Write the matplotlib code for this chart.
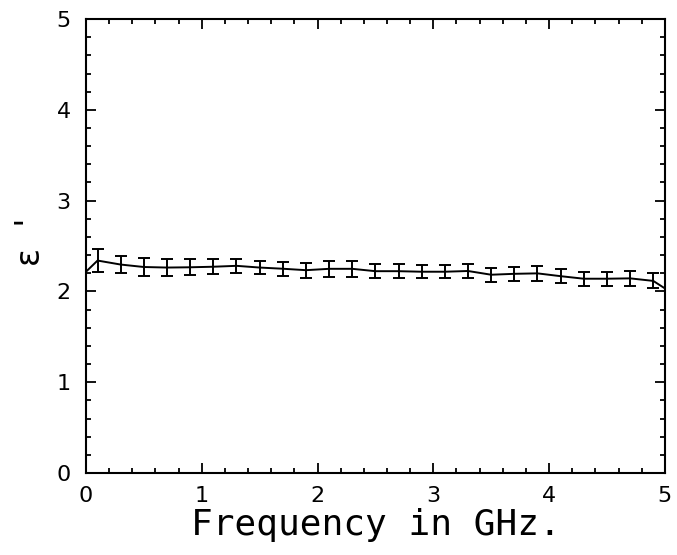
import numpy as np
import matplotlib
matplotlib.use('Agg')
import matplotlib.pyplot as plt
from matplotlib.ticker import MultipleLocator

# measured permittivity (real part) vs frequency
freq = [0.1, 0.3, 0.5, 0.7, 0.9, 1.1, 1.3, 1.5, 1.7, 1.9, 2.1, 2.3, 2.5,
        2.7, 2.9, 3.1, 3.3, 3.5, 3.7, 3.9, 4.1, 4.3, 4.5, 4.7, 4.9]
eps_real = [2.340, 2.296, 2.269, 2.263, 2.266, 2.272, 2.282, 2.263, 2.250,
            2.234, 2.249, 2.249, 2.223, 2.223, 2.217, 2.217, 2.225, 2.184,
            2.194, 2.199, 2.168, 2.140, 2.140, 2.144, 2.116]
eps_err = [0.123, 0.097, 0.095, 0.090, 0.086, 0.081, 0.075, 0.075, 0.077,
           0.083, 0.086, 0.086, 0.079, 0.079, 0.073, 0.073, 0.073, 0.077,
           0.079, 0.081, 0.079, 0.077, 0.077, 0.081, 0.083]
# curve values at the band edges
edge_freq = [0.0, 5.0]
edge_eps = [2.217, 2.034]


def main():
    fig = plt.figure(figsize=(6.77, 5.55), dpi=100)
    ax = fig.add_axes([0.127, 0.1477, 0.855, 0.818])

    line_x = [edge_freq[0]] + freq + [edge_freq[1]]
    line_y = [edge_eps[0]] + eps_real + [edge_eps[1]]
    ax.plot(line_x, line_y, color='black', lw=1.4)
    ax.errorbar(freq, eps_real, yerr=eps_err, fmt='none', ecolor='black',
                elinewidth=1.4, capsize=4, capthick=1.4)

    ax.set_xlim(0, 5)
    ax.set_ylim(0, 5)
    ax.xaxis.set_major_locator(MultipleLocator(1))
    ax.yaxis.set_major_locator(MultipleLocator(1))
    ax.xaxis.set_minor_locator(MultipleLocator(0.2))
    ax.yaxis.set_minor_locator(MultipleLocator(0.2))
    ax.tick_params(which='both', direction='in', top=True, right=True,
                   width=1.3, labelsize=16)
    ax.tick_params(which='major', length=7)
    ax.tick_params(which='minor', length=3.6)
    ax.tick_params(axis='x', pad=9)
    ax.tick_params(axis='y', pad=11)
    for s in ax.spines.values():
        s.set_linewidth(1.5)

    ax.set_xlabel('Frequency in GHz.', family='DejaVu Sans Mono', fontsize=26,
                  labelpad=2)
    ax.set_ylabel("ε  '", fontsize=24)
    ax.yaxis.set_label_coords(-0.068, 0.51)

    fig.savefig('out.png', dpi=100, facecolor='white')


if __name__ == '__main__':
    main()
